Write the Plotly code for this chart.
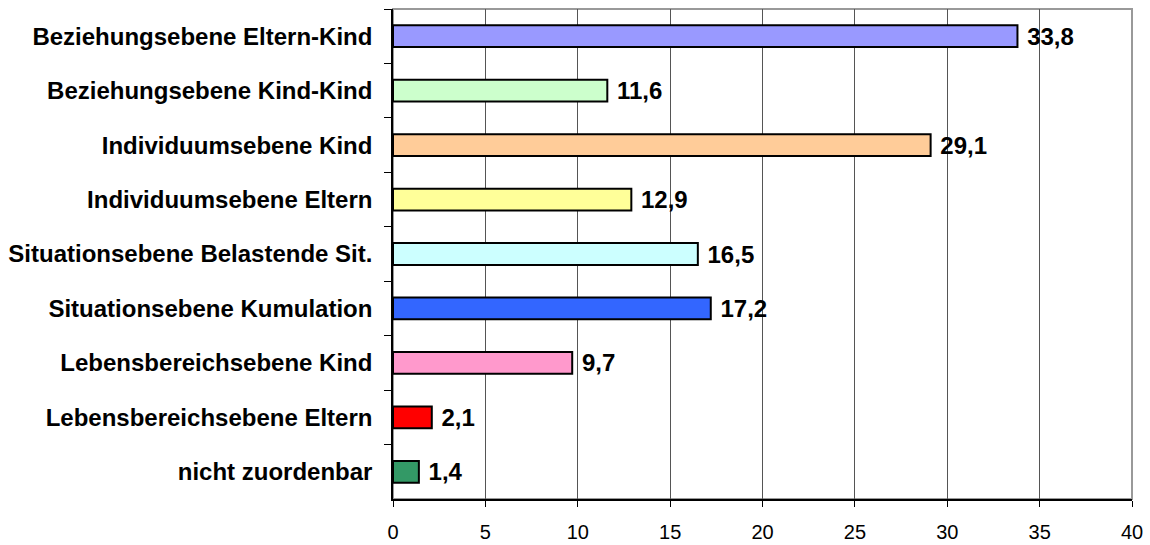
import plotly.graph_objects as go

categories = [
    "Beziehungsebene Eltern-Kind",
    "Beziehungsebene Kind-Kind",
    "Individuumsebene Kind",
    "Individuumsebene Eltern",
    "Situationsebene Belastende Sit.",
    "Situationsebene Kumulation",
    "Lebensbereichsebene Kind",
    "Lebensbereichsebene Eltern",
    "nicht zuordenbar",
]
values = [33.8, 11.6, 29.1, 12.9, 16.5, 17.2, 9.7, 2.1, 1.4]
colors = ["#9999FF", "#CCFFCC", "#FFCC99", "#FFFF99", "#CCFFFF",
          "#3366FF", "#FF99CC", "#FF0000", "#339966"]
x_ticks = [0, 5, 10, 15, 20, 25, 30, 35, 40]

fig = go.Figure(go.Bar(
    x=values,
    y=categories,
    orientation="h",
    marker=dict(color=colors, line=dict(color="black", width=2)),
    width=0.4,
    text=values,
    texttemplate=" %{x:.1f}",
    textposition="outside",
    constraintext="none",
    textfont=dict(family="Liberation Sans, Arial", size=24, color="black", weight="bold"),
    cliponaxis=False,
))

fig.update_layout(
    width=1150, height=545,
    margin=dict(l=393, r=18, t=9, b=46, autoexpand=False),
    plot_bgcolor="white", paper_bgcolor="white",
    separators=",.",
    showlegend=False,
    font=dict(family="Liberation Sans, Arial", color="black"),
    xaxis=dict(
        range=[0, 40], tickvals=x_ticks, ticks="outside", ticklen=6,
        tickcolor="black", showline=True, linecolor="black", linewidth=1.5,
        showgrid=True, gridcolor="#555555", gridwidth=1, zeroline=False,
        tickfont=dict(size=20, color="black"),
        ticklabelstandoff=8, automargin=False,
    ),
    yaxis=dict(
        categoryorder="array", categoryarray=categories, autorange="reversed",
        ticks="outside", tickson="boundaries", ticklen=7, tickcolor="black",
        showline=True, linecolor="black", linewidth=1.5, showgrid=False,
        tickfont=dict(size=24, color="black", weight="bold"),
        ticklabelstandoff=14, automargin=False,
    ),
    shapes=[dict(type="rect", xref="paper", yref="paper", x0=0, x1=1, y0=0, y1=1,
                 line=dict(color="#999999", width=2), layer="below")],
)

fig.write_html("out.html")
